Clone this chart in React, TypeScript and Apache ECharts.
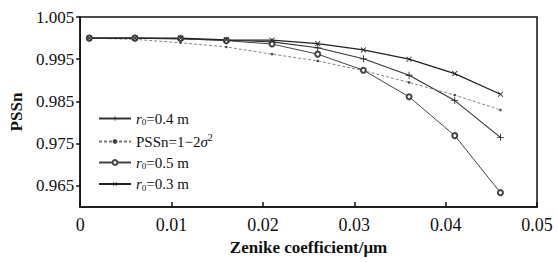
import React, { useEffect, useRef } from "react";
import * as echarts from "echarts";

const xValues = [0.001, 0.006, 0.011, 0.016, 0.021, 0.026, 0.031, 0.036, 0.041, 0.046];
const r04 = [1.0, 1.0, 0.9998, 0.9995, 0.9991, 0.9977, 0.9951, 0.9912, 0.9852, 0.9765];
const pssnTheory = [1.0, 0.9997, 0.9989, 0.9979, 0.9962, 0.9946, 0.9923, 0.9895, 0.9865, 0.9830];
const r05 = [1.0, 1.0, 0.9999, 0.9994, 0.9986, 0.9962, 0.9924, 0.9861, 0.9769, 0.9634];
const r03 = [1.0, 1.0, 1.0, 0.9996, 0.9995, 0.9987, 0.9972, 0.9950, 0.9916, 0.9867];
const yTickLabels = [0.965, 0.975, 0.985, 0.995, 1.005];
const xTicks = [0, 0.01, 0.02, 0.03, 0.04, 0.05];

const FONT = "'Liberation Serif', 'DejaVu Serif', serif";
const PLUS = "path://M-0.12,-1H0.12V-0.12H1V0.12H0.12V1H-0.12V0.12H-1V-0.12H-0.12Z";

const pair = (ys: number[]) => xValues.map((x, i) => [x, ys[i]]);

export default function App() {
  const ref = useRef<HTMLDivElement>(null);
  useEffect(() => {
    if (!ref.current) return;
    const chart = echarts.init(ref.current, null, { renderer: "svg" });
    const rich = {
      i: { fontFamily: FONT, fontStyle: "italic", fontSize: 15, color: "#111" },
      s: { fontFamily: FONT, fontSize: 9, color: "#111", padding: [7, 0, 0, 0] },
      p: { fontFamily: FONT, fontSize: 10, color: "#111", padding: [0, 0, 8, 0] },
      n: { fontFamily: FONT, fontSize: 15, color: "#111" },
    };
    const legendNames: Record<string, string> = {
      r04: "{i|r}{s|0}{n|=0.4 m}",
      pssn: "{n|PSSn=1−2}{i|σ}{p|2}",
      r05: "{i|r}{s|0}{n|=0.5 m}",
      r03: "{i|r}{s|0}{n|=0.3 m}",
    };
    chart.setOption({
      animation: false,
      backgroundColor: "#fff",
      grid: {
        left: 77,
        right: 21,
        top: 17,
        bottom: 55,
        show: true,
        borderColor: "#111",
        borderWidth: 1.5,
      },
      legend: {
        orient: "vertical",
        left: 93,
        top: 106,
        itemWidth: 32,
        itemHeight: 6,
        itemGap: 6,
        data: ["r04", "pssn", "r05", "r03"],
        formatter: (name: string) => legendNames[name],
        textStyle: { fontFamily: FONT, fontSize: 15, color: "#111", rich },
      },
      xAxis: {
        type: "value",
        min: 0,
        max: 0.05,
        interval: 0.01,
        name: "Zenike coefficient/μm",
        nameLocation: "middle",
        nameGap: 27,
        nameTextStyle: { fontFamily: FONT, fontSize: 17, fontWeight: "bold", color: "#111" },
        axisLine: { lineStyle: { color: "#111", width: 1.5 } },
        axisTick: { inside: true, length: 5, lineStyle: { color: "#111", width: 1.5 } },
        axisLabel: {
          fontFamily: FONT,
          fontSize: 18,
          color: "#111",
          margin: 9,
          customValues: xTicks,
          formatter: (v: number) => (v === 0 ? "0" : v.toFixed(2)),
        },
        splitLine: { show: false },
      },
      yAxis: {
        type: "value",
        min: 0.96,
        max: 1.005,
        name: "PSSn",
        nameLocation: "middle",
        nameRotate: 90,
        nameGap: 49,
        nameTextStyle: { fontFamily: FONT, fontSize: 17, fontWeight: "bold", color: "#111" },
        axisLine: { lineStyle: { color: "#111", width: 1.5 } },
        axisTick: { inside: false, length: 4, customValues: yTickLabels, lineStyle: { color: "#111", width: 1.5 } },
        axisLabel: {
          fontFamily: FONT,
          fontSize: 17,
          color: "#111",
          margin: 6,
          customValues: yTickLabels,
          formatter: (v: number) => v.toFixed(3),
        },
        splitLine: { show: false },
      },
      series: [
        {
          name: "r04",
          type: "line",
          data: pair(r04),
          symbol: PLUS,
          symbolSize: 7,
          lineStyle: { color: "#333", width: 1.1 },
          itemStyle: { color: "#222" },
        },
        {
          name: "pssn",
          type: "line",
          data: pair(pssnTheory),
          symbol: "circle",
          symbolSize: 2.5,
          lineStyle: { color: "#777", width: 0.9, type: [3, 2] },
          itemStyle: { color: "#444" },
        },
        {
          name: "r05",
          type: "line",
          data: pair(r05),
          symbol: "emptyCircle",
          symbolSize: 5,
          lineStyle: { color: "#444", width: 1 },
          itemStyle: { color: "#444", borderColor: "#444", borderWidth: 1.2 },
        },
        {
          name: "r03",
          type: "line",
          data: pair(r03),
          symbol: PLUS,
          symbolRotate: 45,
          symbolSize: 7,
          lineStyle: { color: "#222", width: 1.3 },
          itemStyle: { color: "#222" },
        },
      ],
    });
    return () => chart.dispose();
  }, []);
  return (
    <div
      ref={ref}
      style={{ position: "fixed", left: 0, top: 0, width: 558, height: 262, background: "#fff" }}
    />
  );
}
